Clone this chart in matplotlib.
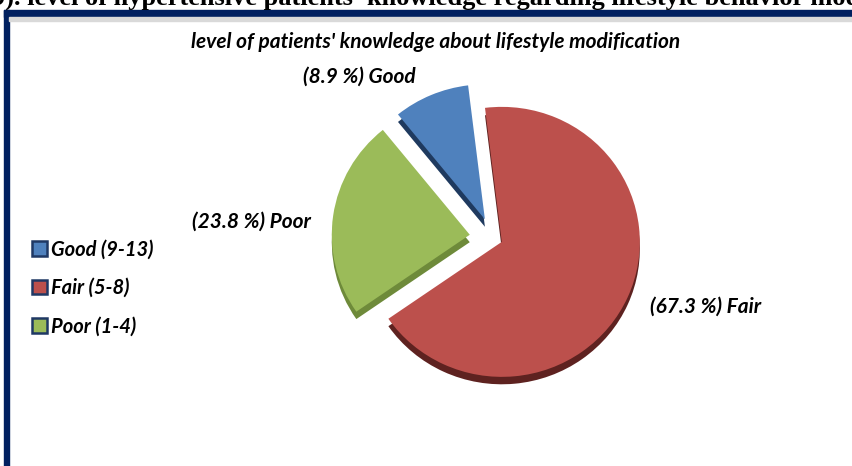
import matplotlib
matplotlib.use("Agg")
from matplotlib import pyplot as plt
from matplotlib.patches import Rectangle, Patch

# data, legend order
labels = ['Good (9-13)', 'Fair (5-8)', 'Poor (1-4)']
short = ['Good', 'Fair', 'Poor']
percents = [8.9, 67.3, 23.8]
colors = ['#4F81BD', '#BC504C', '#9BBB59']
dark = ['#1F3A5F', '#5E2220', '#6E8A3A']
explode = [0.15, 0.07, 0.17]

W, H = 853, 466
fig = plt.figure(figsize=(W / 100, H / 100), dpi=100)

def fx(x):
    return x / W

def fy(y):
    return 1 - y / H

# navy frame
fig.patches.append(Rectangle((fx(4), 0), fx(9) - fx(4), fy(10), transform=fig.transFigure,
                             color='#002060', zorder=0))
fig.patches.append(Rectangle((fx(4), fy(17)), 1, fy(10) - fy(17), transform=fig.transFigure,
                             color='#002060', zorder=0))
fig.patches.append(Rectangle((fx(9), fy(21)), 1, fy(17) - fy(21), transform=fig.transFigure,
                             color='#d9d9d9', zorder=0))

# cut-off caption at the very top
fig.text(fx(-8), fy(5), "9). level of hypertensive patients' knowledge regarding lifestyle behavior modification",
         family='Liberation Serif', weight='bold', fontsize=19, va='baseline', ha='left')

fig.text(fx(436), fy(42), "level of patients' knowledge about lifestyle modification",
         family='Lato', weight='bold', style='italic', fontsize=15, ha='center', va='center')

# pie axes: centre at (493, 238) px, radius 138 px wide, 135 px tall
cx, cy, rx, ry = 493, 238, 138, 135
ax = fig.add_axes([fx(cx - 300), fy(cy + 220), 600 / W, 440 / H])

order = [1, 2, 0]
vals = [percents[i] for i in order]
ex = [explode[i] for i in order]

# side faces (depth) then top faces
ax.pie(vals, explode=ex, startangle=97, counterclock=False, colors=[dark[i] for i in order],
       center=(0, -0.055), radius=1, frame=True)
ax.pie(vals, explode=ex, startangle=97, counterclock=False, colors=[colors[i] for i in order],
       center=(0, 0), radius=1, frame=True)
ax.set_aspect('auto')
ax.set_xlim(-300 / rx, 300 / rx)
ax.set_ylim(-220 / ry, 220 / ry)
ax.axis('off')

lab_font = dict(family='Lato', weight='bold', style='italic', fontsize=15)
fig.text(fx(303), fy(77), f"({percents[0]} %) {short[0]}", ha='left', va='center', **lab_font)
fig.text(fx(192), fy(222), f"({percents[2]} %) {short[2]}", ha='left', va='center', **lab_font)
fig.text(fx(650), fy(307), f"({percents[1]} %) {short[1]}", ha='left', va='center', **lab_font)

handles = [Patch(facecolor=c, edgecolor='#1F3864', linewidth=1.8) for c in colors]
fig.legend(handles, labels, loc='center left', bbox_to_anchor=(fx(14), fy(288)),
           frameon=False, handlelength=0.75, handleheight=0.75, handletextpad=0.2,
           labelspacing=0.92, prop=dict(family='Lato', weight='bold', style='italic', size=14.5))

fig.savefig('out.png', dpi=100)
